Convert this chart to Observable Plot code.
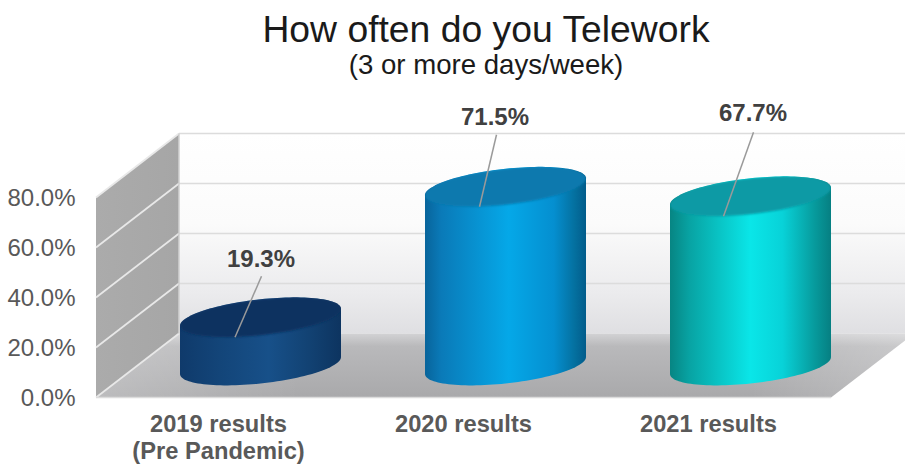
<!DOCTYPE html>
<html>
<head>
<meta charset="utf-8">
<script src="https://cdn.jsdelivr.net/npm/d3@7"></script>
<script src="https://cdn.jsdelivr.net/npm/@observablehq/plot@0.6"></script>
<style>
  html, body { margin: 0; padding: 0; background: #fff; }
  body { width: 905px; height: 464px; overflow: hidden; font-family: "Liberation Sans", Arial, sans-serif; }
  header { box-sizing: border-box; width: 905px; height: 90px; padding: 9px 0 0 67px; text-align: center; color: #1a1a1a; }
  h1 { margin: 0; font-size: 37.3px; line-height: 40px; font-weight: 400; }
  h2 { margin: 0; font-size: 27.6px; line-height: 32px; font-weight: 400; }
  svg { display: block; }
</style>
</head>
<body>
<header>
  <h1>How often do you Telework</h1>
  <h2>(3 or more days/week)</h2>
</header>
<div id="chart"></div>
<script>
// Share of respondents teleworking three or more days a week
const categories = ["2019 results\n(Pre Pandemic)", "2020 results", "2021 results"];
const shares = [19.3, 71.5, 67.7];
const yTicks = [0, 20, 40, 60, 80];

const results = categories.map((category, i) => ({category, share: shares[i]}));
const percent = (v) => `${v.toFixed(1)}%`;

// Oblique projection: how far the back wall sits from the front plane
const depth = {dx: 83, dy: -64};
const radius = {a: 80.5, tilt: 8.5, b: 18};

const palettes = [
  {id: "c2019", top: "#0c3361", stops: [[0, "#0f3a6b"], [0.25, "#134579"], [0.55, "#175089"], [0.8, "#124273"], [1, "#0d3460"]]},
  {id: "c2020", top: "#0879ae", stops: [[0, "#08649b"], [0.1, "#0a7ab8"], [0.52, "#05a8e8"], [0.8, "#058fd0"], [0.93, "#04709f"], [1, "#025c8b"]]},
  {id: "c2021", top: "#089aa5", stops: [[0, "#078583"], [0.12, "#08a3a3"], [0.5, "#0ae6e8"], [0.7, "#08d2d8"], [0.9, "#079a9c"], [1, "#067f82"]]}
];

// Labels and their leader lines, relative to the centre of each cylinder's top
const callouts = [
  {labelDx: 0, labelDy: -58, lineTop: [1, -41], lineEnd: [-25.5, 20]},
  {labelDx: -11, labelDy: -70, lineTop: [-9, -52], lineEnd: [-26, 20]},
  {labelDx: 2, labelDy: -83, lineTop: [3, -64], lineEnd: [-27, 20]}
];

const el = (name, attrs = {}, parent) => {
  const node = document.createElementNS("http://www.w3.org/2000/svg", name);
  for (const k in attrs) node.setAttribute(k, attrs[k]);
  if (parent) parent.appendChild(node);
  return node;
};

const linearGradient = (defs, id, stops, vertical) => {
  const g = el("linearGradient", {id, x1: 0, y1: 0, x2: vertical ? 0 : 1, y2: vertical ? 1 : 0}, defs);
  stops.forEach(([offset, color, opacity = 1]) => el("stop", {offset, "stop-color": color, "stop-opacity": opacity}, g));
};

// The room behind the bars: side wall, back wall, floor and gridlines
function room(index, {y}, values, dimensions) {
  const g = el("g");
  const defs = el("defs", {}, g);
  linearGradient(defs, "wall", [[0, "#ffffff"], [0.45, "#fbfbfb"], [0.8, "#ebebed"], [1, "#dfdfe2"]], true);
  linearGradient(defs, "floor", [[0, "#d2d2d4"], [0.2, "#b9b9bb"], [1, "#a9a9ab"]], true);
  linearGradient(defs, "floorSheen", [[0, "#ffffff", 0.22], [0.25, "#ffffff", 0], [0.8, "#ffffff", 0], [1, "#ffffff", 0.25]], false);
  linearGradient(defs, "side", [[0, "#ababab"], [1, "#a6a6a6"]], false);
  const left = dimensions.marginLeft;
  const right = dimensions.width - dimensions.marginRight;
  const y0 = y(0), yTop = y(80);
  const poly = (points, attrs) => el("polygon", {points: points.map((p) => p.join(",")).join(" "), ...attrs}, g);

  poly([[left + depth.dx, yTop + depth.dy], [dimensions.width, yTop + depth.dy], [dimensions.width, y0 + depth.dy], [left + depth.dx, y0 + depth.dy]], {fill: "url(#wall)"});
  for (const t of yTicks) {
    el("line", {x1: left + depth.dx, x2: dimensions.width, y1: y(t) + depth.dy, y2: y(t) + depth.dy,
      stroke: t === 0 ? "none" : "#dcdcdc", "stroke-width": 1.5}, g);
  }
  const floorShape = [[left, y0], [right, y0], [right + depth.dx, y0 + depth.dy], [left + depth.dx, y0 + depth.dy]];
  poly(floorShape, {fill: "url(#floor)"});
  poly(floorShape, {fill: "url(#floorSheen)"});
  poly([[left, yTop], [left + depth.dx, yTop + depth.dy], [left + depth.dx, y0 + depth.dy], [left, y0]], {fill: "url(#side)"});
  for (const t of yTicks) {
    el("line", {x1: left, x2: left + depth.dx, y1: y(t), y2: y(t) + depth.dy,
      stroke: "#e8e8e8", "stroke-width": 1.8}, g);
  }
  el("line", {x1: left, x2: right, y1: y0, y2: y0, stroke: "#dcdcdc", "stroke-width": 1.5}, g);
  el("line", {x1: left + depth.dx, x2: left + depth.dx, y1: yTop + depth.dy, y2: y0 + depth.dy, stroke: "#d0d0d0", "stroke-width": 1.5}, g);
  return g;
}

// A point on the sheared ellipse that forms a cylinder's end cap
const capPoint = (cx, cy, t) => [
  cx + radius.a * Math.cos(t),
  cy - radius.tilt * Math.cos(t) + radius.b * Math.sin(t)
];

const capPath = (cx, cy, from, to) => {
  const steps = 60;
  return d3.range(steps + 1).map((i) => capPoint(cx, cy, from + (to - from) * i / steps).map((v) => v.toFixed(2)).join(","));
};

// Cylinders, sitting halfway between the front plane and the back wall
function cylinders(index, {x, y}) {
  const g = el("g");
  const defs = el("defs", {}, g);
  const soft = el("filter", {id: "capEdge", x: "-5%", y: "-15%", width: "110%", height: "130%"}, defs);
  el("feGaussianBlur", {stdDeviation: 1.3}, soft);
  palettes.forEach((p) => linearGradient(defs, p.id, p.stops, false));
  results.forEach((d, i) => {
    const cx = x(d.category) + depth.dx / 2;
    const base = y(0) + depth.dy / 2;
    const top = y(d.share) + depth.dy / 2;
    // Body outline: over the back of the top cap, down, then round the front of the base
    const outline = [...capPath(cx, top, Math.PI, 2 * Math.PI), ...capPath(cx, base, 0, Math.PI)];
    const clipId = `clip${i}`;
    const clip = el("clipPath", {id: clipId}, defs);
    el("path", {d: `M${outline.join("L")}Z`}, clip);
    el("path", {d: `M${outline.join("L")}Z`, fill: `url(#${palettes[i].id})`}, g);
    const cap = capPath(cx, top, 0, 2 * Math.PI);
    const capGroup = el("g", {"clip-path": `url(#${clipId})`}, g);
    el("path", {d: `M${cap.join("L")}Z`, fill: palettes[i].top, filter: "url(#capEdge)"}, capGroup);
    const c = callouts[i];
    el("line", {x1: cx + c.lineTop[0], y1: top + c.lineTop[1], x2: cx + c.lineEnd[0], y2: top + c.lineEnd[1],
      stroke: "#9a9a9a", "stroke-width": 1.5}, g);
  });
  return g;
}

const chart = Plot.plot({
  width: 905,
  height: 374,
  marginTop: 107.5,
  marginBottom: 66.5,
  marginLeft: 96,
  marginRight: 74,
  style: {background: "transparent", fontFamily: "'Liberation Sans', Arial, sans-serif"},
  x: {type: "point", domain: categories, padding: 0.5, axis: null},
  y: {domain: [0, 80], axis: null},
  marks: [
    room,
    Plot.axisY({ticks: yTicks, tickSize: 0, tickPadding: 21, tickFormat: percent, fontSize: 24, color: "#595959", label: null}),
    Plot.axisX({tickSize: 0, tickPadding: 15, dx: -1, fontSize: 23.7, fontWeight: 700, color: "#595959", lineHeight: 1.13, label: null}),
    cylinders,
    ...results.map((d, i) => Plot.text([d], {
      x: "category",
      y: "share",
      text: (r) => percent(r.share),
      dx: depth.dx / 2 + callouts[i].labelDx,
      dy: depth.dy / 2 + callouts[i].labelDy,
      fontSize: 24,
      fontWeight: 700,
      fill: "#404040"
    }))
  ]
});
document.getElementById("chart").appendChild(chart);
</script>
</body>
</html>
